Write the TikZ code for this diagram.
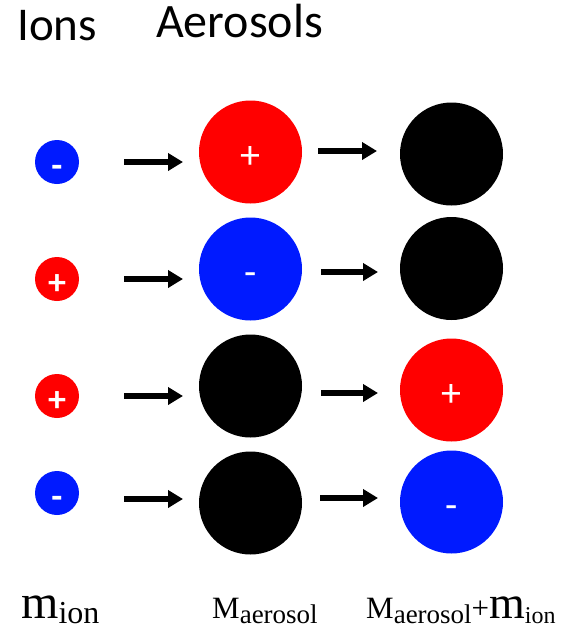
\documentclass[tikz,border=0pt]{standalone}
\usepackage{fontspec}
\setmainfont{Liberation Serif}
\newfontfamily\calib{Carlito}
\usetikzlibrary{arrows.meta}
\definecolor{ionred}{RGB}{255,0,0}
\definecolor{ionblue}{RGB}{0,26,255}
\tikzset{
  ion/.style={circle,inner sep=0pt,minimum size=44pt,text=white,
    text height=30pt,text depth=0pt,
    font=\calib\bfseries\fontsize{36}{36}\selectfont},
  aero/.style={circle,inner sep=0pt,minimum size=103pt,text=white,
    text height=32pt,text depth=0pt,
    font=\calib\fontsize{40}{40}\selectfont},
  flow/.style={line width=5.5pt,-{Triangle[length=15pt,width=17pt]}},
  head/.style={anchor=base west,inner sep=0pt},
  mass/.style={anchor=base west,inner sep=0pt}
}
\begin{document}
\begin{tikzpicture}[x=1pt,y=-1pt]
\useasboundingbox (0,0) rectangle (571,635);

% column headings
\node[head,font=\calib\fontsize{47}{47}\selectfont] (hion) at (17,40) {Ions};
\node[head,font=\calib\fontsize{48}{48}\selectfont] (haer) at (156,37) {Aerosols};

% row 1: negative ion meets positive aerosol
\node[ion,fill=ionblue] (i1) at (57,162) {-};
\node[aero,fill=ionred] (a1) at (250.5,152) {+};
\node[aero,fill=black]  (r1) at (451.5,154) {};
% row 2: positive ion meets negative aerosol
\node[ion,fill=ionred]  (i2) at (57,279) {+};
\node[aero,fill=ionblue] (a2) at (250.5,269) {-};
\node[aero,fill=black]  (r2) at (451.5,268.5) {};
% row 3: positive ion meets neutral aerosol
\node[ion,fill=ionred]  (i3) at (57,396) {+};
\node[aero,fill=black]  (a3) at (250.5,386) {};
\node[aero,fill=ionred] (r3) at (451.5,390) {+};
% row 4: negative ion meets neutral aerosol
\node[ion,fill=ionblue] (i4) at (57,493) {-};
\node[aero,fill=black]  (a4) at (250.5,503) {};
\node[aero,fill=ionblue] (r4) at (451.5,502) {-};

% arrow end points
\coordinate (p1s) at (124,162); \coordinate (p1e) at (183,162);
\coordinate (q1s) at (318,151); \coordinate (q1e) at (377,151);
\coordinate (p2s) at (124,279); \coordinate (p2e) at (183,279);
\coordinate (q2s) at (321,272); \coordinate (q2e) at (378,272);
\coordinate (p3s) at (124,396); \coordinate (p3e) at (183,396);
\coordinate (q3s) at (321,393); \coordinate (q3e) at (378,393);
\coordinate (p4s) at (124,499); \coordinate (p4e) at (183,499);
\coordinate (q4s) at (320,498); \coordinate (q4e) at (378,498);

\foreach \k in {1,...,4}{
  \draw[flow] (p\k s) -- (p\k e);
  \draw[flow] (q\k s) -- (q\k e);
}

% masses under the columns
\node[mass] (mi) at (21,618) {\fontsize{48}{48}\selectfont m\raisebox{-5pt}{\fontsize{32}{32}\selectfont ion}};
\node[mass] (ma) at (212,618) {\fontsize{31}{31}\selectfont M\raisebox{-5pt}{\fontsize{27}{27}\selectfont aerosol}};
\node[mass] (ms) at (366,618) {\fontsize{31}{31}\selectfont M\raisebox{-5pt}{\fontsize{27}{27}\selectfont aerosol}+\fontsize{46}{46}\selectfont m\raisebox{-5pt}{\fontsize{24}{24}\selectfont ion}};
\end{tikzpicture}
\end{document}
